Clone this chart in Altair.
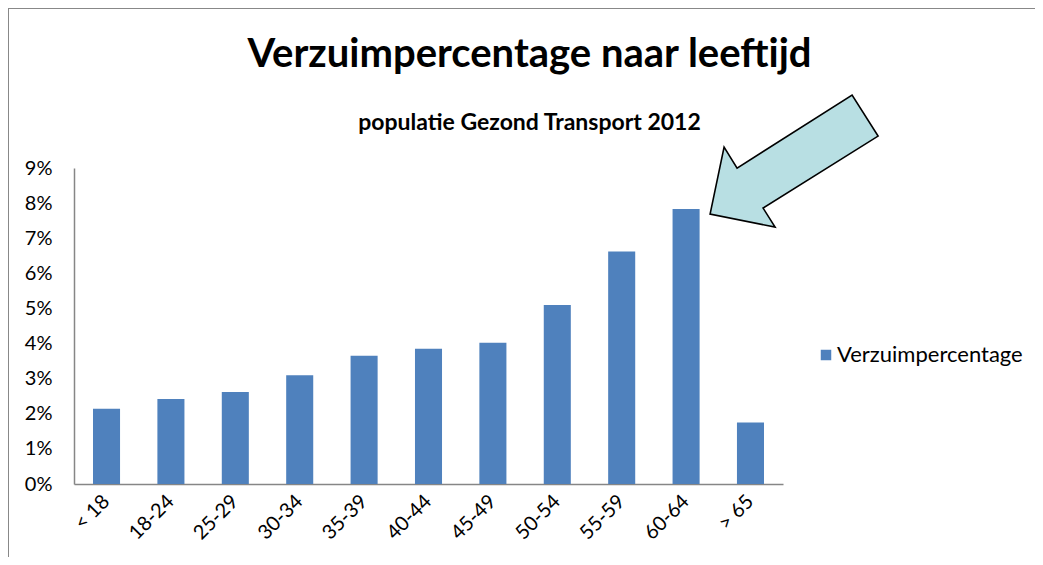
import altair as alt
import pandas as pd

categories = ["< 18", "18-24", "25-29", "30-34", "35-39", "40-44", "45-49",
              "50-54", "55-59", "60-64", "> 65"]
values = [0.0214, 0.0242, 0.0262, 0.0310, 0.0365, 0.0385, 0.0402,
          0.0510, 0.0662, 0.0783, 0.0175]
series_name = "Verzuimpercentage"
highlight = "60-64"
y_ticks = [0.00, 0.01, 0.02, 0.03, 0.04, 0.05, 0.06, 0.07, 0.08, 0.09]
title_text = "Verzuimpercentage naar leeftijd"
subtitle_text = "populatie Gezond Transport 2012"

df = pd.DataFrame({
    "leeftijd": categories,
    "verzuim": values,
    "reeks": [series_name] * len(categories),
})

FONT = "Lato"
AXIS_GRAY = "#868686"
BAR = "#4F81BD"

x_axis = alt.Axis(title=None, labelAngle=-45, labelAlign="right",
                  labelBaseline="middle", labelFontSize=20, labelFont=FONT,
                  labelPadding=14, ticks=False, tickSize=0, labelOverlap=False,
                  domainColor=AXIS_GRAY, domainWidth=1.5, labelColor="#000000")
y_axis = alt.Axis(title=None, values=y_ticks, format=".0%", grid=False,
                  ticks=False, tickSize=0, labelFontSize=20, labelFont=FONT,
                  labelPadding=22, labelOverlap=False, domainColor=AXIS_GRAY,
                  domainWidth=1.5, labelColor="#000000")
x_scale = alt.Scale(paddingInner=0.58, paddingOuter=0.295)
y_scale = alt.Scale(domain=[0, 0.09], nice=False)

x_enc = alt.X("leeftijd:N", sort=categories, scale=x_scale, axis=x_axis)
y_enc = alt.Y("verzuim:Q", scale=y_scale, axis=y_axis)

base = alt.Chart(df)

bars = base.mark_bar(color=BAR).encode(
    x=x_enc,
    y=y_enc,
    color=alt.Color("reeks:N", scale=alt.Scale(range=[BAR]),
                    legend=alt.Legend(title=None, orient="none", legendX=741,
                                      legendY=176, symbolType="square",
                                      symbolSize=110, symbolStrokeWidth=0,
                                      labelFontSize=22, labelFont=FONT,
                                      labelLimit=400, labelOffset=0,
                                      labelColor="#000000")),
)

arrow_path = "M24,5 L38,-62 L51,-41 L166,-114 L192,-73 L77,-1 L89,18 Z"
arrow = base.transform_filter(alt.datum.leeftijd == highlight).mark_point(
    shape=arrow_path, size=4, filled=True, fill="#B8DFE3", stroke="#000000",
    strokeWidth=1.6, opacity=1, fillOpacity=1, strokeJoin="miter",
).encode(x=x_enc, y=y_enc)

frame_v = base.mark_rule(color="#888888", strokeWidth=2).encode(
    x=alt.value(-66), y=alt.value(-160), y2=alt.value(400))
frame_h = base.mark_rule(color="#888888", strokeWidth=2).encode(
    y=alt.value(-160), x=alt.value(-66), x2=alt.value(980))

chart = alt.layer(bars, arrow, frame_v, frame_h).properties(
    width=709, height=316,
    title=alt.TitleParams(text=title_text, subtitle=subtitle_text,
                          font=FONT, subtitleFont=FONT, fontSize=40,
                          subtitleFontSize=23, fontWeight="bold",
                          subtitleFontWeight="bold", anchor="middle", dx=101,
                          offset=-128, subtitlePadding=37, color="#000000",
                          subtitleColor="#000000"),
    autosize=alt.AutoSizeParams(type="none"),
    padding={"left": 66, "top": 160, "right": 252, "bottom": 73},
    background="white",
).configure_view(stroke=None)

chart.save("out.html", embed_options={"renderer": "svg", "actions": False})
